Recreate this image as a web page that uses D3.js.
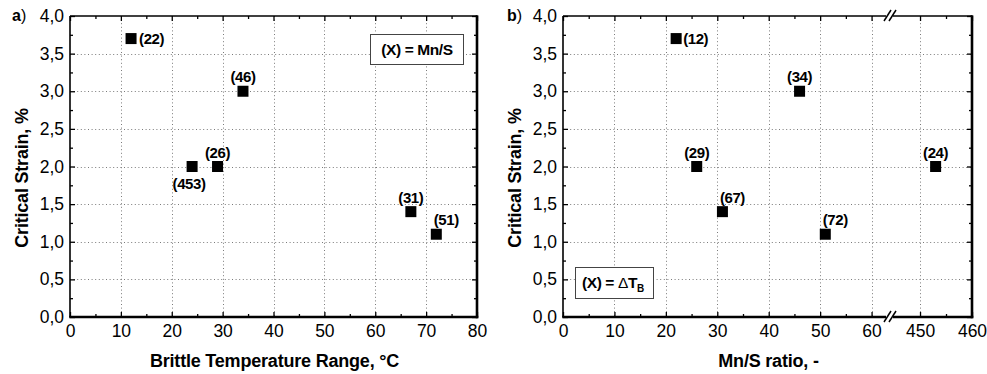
<!DOCTYPE html>
<html>
<head>
<meta charset="utf-8">
<script src="https://cdn.jsdelivr.net/npm/d3@7"></script>
<style>
  body { margin: 0; background: #fff; }
  svg { display: block; font-family: "Liberation Sans", Arial, sans-serif; }
</style>
</head>
<body>
<svg id="chart" width="987" height="374"></svg>
<script>
// Each heat: brittle temperature range (°C), Mn/S ratio and critical strain (%)
const deltaT = [12, 24, 29, 34, 67, 72];
const mnS    = [22, 453, 26, 46, 31, 51];
const strain = [3.7, 2.0, 2.0, 3.0, 1.4, 1.1];

// Axis ticks
const yTicks      = [0, 0.5, 1.0, 1.5, 2.0, 2.5, 3.0, 3.5, 4.0];
const xTicksA     = [0, 10, 20, 30, 40, 50, 60, 70, 80];
const xTicksBLow  = [0, 10, 20, 30, 40, 50, 60];
const xTicksBHigh = [450, 460];

// Text
const titleYAxis = "Critical Strain, %";
const titleXA = "Brittle Temperature Range, °C";
const titleXB = "Mn/S ratio, -";

// Where each point's tag sits relative to its marker
const placeA = ["right", "below", "above", "above", "above", "aboveRight"];
const placeB = ["rightTight", "above", "above", "above", "aboveRight", "aboveRight"];
const tagOffset = {
  right:      { dx: 8,  dy: 5,   anchor: "start"  },
  rightTight: { dx: 7,  dy: 5,   anchor: "start"  },
  above:      { dx: 0,  dy: -9,  anchor: "middle" },
  below:      { dx: -3, dy: 22,  anchor: "middle" },
  aboveRight: { dx: 10, dy: -9,  anchor: "middle" }
};

const svg = d3.select("#chart");
const fmtY = d => d3.format(".1f")(d).replace(".", ",");
const plotTop = 16, plotBottom = 317;
const y = d3.scaleLinear().domain([0, 4]).range([plotBottom, plotTop]);
const yMinor = d3.range(0.25, 4, 0.5);
const MARK = 11;

function gridLines(g, xs, xScale, x0, x1) {
  const grid = g.append("g").attr("stroke", "#7a7a7a").attr("stroke-width", 1)
    .attr("stroke-dasharray", "1,2.6");
  xs.forEach(v => {
    const px = Math.round(xScale(v)) + 0.5;
    grid.append("line").attr("x1", px).attr("x2", px).attr("y1", plotTop).attr("y2", plotBottom);
  });
  yTicks.filter(v => v > 0 && v < 4).forEach(v => {
    const py = Math.round(y(v)) + 0.5;
    grid.append("line").attr("x1", x0).attr("x2", x1).attr("y1", py).attr("y2", py);
  });
}

function xAxisSegment(g, scale, majors, minors, showLabels) {
  const bot = g.append("g").attr("transform", `translate(0,${plotBottom})`)
    .call(d3.axisBottom(scale).tickValues(majors).tickSize(-5).tickPadding(8)
      .tickFormat(showLabels ? d3.format("d") : ""));
  bot.append("g").call(d3.axisBottom(scale).tickValues(minors).tickSize(-3).tickFormat(""));
  const tp = g.append("g").attr("transform", `translate(0,${plotTop})`)
    .call(d3.axisTop(scale).tickValues(majors).tickSize(-5).tickFormat(""));
  tp.append("g").call(d3.axisTop(scale).tickValues(minors).tickSize(-3).tickFormat(""));
}

function yAxes(g, x0, x1) {
  const l = g.append("g").attr("transform", `translate(${x0},0)`)
    .call(d3.axisLeft(y).tickValues(yTicks).tickSize(-5).tickPadding(6).tickFormat(fmtY));
  l.append("g").call(d3.axisLeft(y).tickValues(yMinor).tickSize(-3).tickFormat(""));
  const r = g.append("g").attr("transform", `translate(${x1},0)`)
    .call(d3.axisRight(y).tickValues(yTicks).tickSize(-5).tickFormat(""));
  r.append("g").call(d3.axisRight(y).tickValues(yMinor).tickSize(-3).tickFormat(""));
}

function styleAxes(g) {
  g.selectAll(".domain").remove();
  g.selectAll(".tick line").attr("stroke", "#000").attr("stroke-width", 1.3);
  g.selectAll(".tick text").attr("font-size", 17.5).attr("fill", "#000")
    .attr("font-family", "'Liberation Sans', Arial, sans-serif");
}

function frame(g, x0, x1) {
  const f = g.append("g").attr("stroke", "#000").attr("fill", "none");
  f.append("line").attr("x1", x0).attr("x2", x1).attr("y1", plotTop).attr("y2", plotTop).attr("stroke-width", 1.6);
  f.append("line").attr("x1", x0).attr("x2", x0).attr("y1", plotTop).attr("y2", plotBottom).attr("stroke-width", 1.6);
  f.append("line").attr("x1", x1).attr("x2", x1).attr("y1", plotTop - 0.8).attr("y2", plotBottom + 1.3).attr("stroke-width", 2.6);
  f.append("line").attr("x1", x0 - 0.8).attr("x2", x1 + 1.3).attr("y1", plotBottom).attr("y2", plotBottom).attr("stroke-width", 2.6);
}

function points(g, xs, px, tags, place) {
  const grp = g.append("g");
  grp.selectAll("rect").data(strain).join("rect")
    .attr("x", (d, i) => px(xs[i]) - MARK / 2)
    .attr("y", d => y(d) - MARK / 2)
    .attr("width", MARK).attr("height", MARK).attr("fill", "#000");
  grp.selectAll("text").data(strain).join("text")
    .attr("x", (d, i) => px(xs[i]) + tagOffset[place[i]].dx)
    .attr("y", d => y(d)).attr("dy", (d, i) => tagOffset[place[i]].dy)
    .attr("text-anchor", (d, i) => tagOffset[place[i]].anchor)
    .attr("font-size", 15).attr("font-weight", "bold").attr("letter-spacing", -0.4)
    .text((d, i) => `(${tags[i]})`);
}

function yTitle(g, cx) {
  g.append("text").attr("transform", `translate(${cx},178) rotate(-90)`)
    .attr("text-anchor", "middle").attr("dy", "0.35em")
    .attr("font-size", 18).attr("font-weight", "bold").attr("letter-spacing", -0.2)
    .text(titleYAxis);
}

function panelTag(g, x, letter) {
  const t = g.append("text").attr("x", x).attr("y", 21).attr("font-size", 16);
  t.append("tspan").attr("font-weight", "bold").text(letter);
  t.append("tspan").text(")");
}

// ---------- panel a: critical strain vs brittle temperature range ----------
{
  const x0 = 70, x1 = 477;
  const x = d3.scaleLinear().domain([0, 80]).range([x0, x1]);
  const g = svg.append("g");
  gridLines(g, xTicksA.filter(v => v > 0 && v < 80), x, x0, x1);
  const ax = g.append("g");
  xAxisSegment(ax, x, xTicksA, d3.range(5, 80, 10), true);
  yAxes(ax, x0, x1);
  styleAxes(ax);
  frame(g, x0, x1);
  points(g, deltaT, x, mnS, placeA);

  // key box
  g.append("rect").attr("x", 370.5).attr("y", 34.5).attr("width", 93).attr("height", 30)
    .attr("fill", "#fff").attr("stroke", "#444").attr("stroke-width", 1);
  g.append("text").attr("x", 417).attr("y", 55).attr("text-anchor", "middle")
    .attr("font-size", 15.5).attr("font-weight", "bold").attr("letter-spacing", -0.4)
    .text("(X) = Mn/S");

  yTitle(g, 22);
  g.append("text").attr("x", (x0 + x1) / 2 + 1).attr("y", 367).attr("text-anchor", "middle")
    .attr("font-size", 18).attr("font-weight", "bold").attr("letter-spacing", -0.2)
    .text(titleXA);
  panelTag(g, 12, "a");
}

// ---------- panel b: critical strain vs Mn/S ratio, with a broken x axis ----------
{
  const x0 = 563, x1 = 972, brk = 890;
  const xLow  = d3.scaleLinear().domain([0, 63]).range([x0, brk - 3]);
  const xHigh = d3.scaleLinear().domain([444.8, 460]).range([brk + 3, x1]);
  const px = v => (v < 100 ? xLow(v) : xHigh(v));
  const g = svg.append("g");

  const grid = g.append("g");
  gridLines(grid, xTicksBLow.filter(v => v > 0), xLow, x0, x1);
  grid.append("line").attr("x1", Math.round(xHigh(450)) + 0.5).attr("x2", Math.round(xHigh(450)) + 0.5)
    .attr("y1", plotTop).attr("y2", plotBottom).attr("stroke", "#7a7a7a").attr("stroke-dasharray", "1,2.6");

  const ax = g.append("g");
  xAxisSegment(ax, xLow, xTicksBLow, d3.range(5, 63, 10), true);
  xAxisSegment(ax, xHigh, xTicksBHigh, [455], true);
  yAxes(ax, x0, x1);
  styleAxes(ax);
  frame(g, x0, x1);

  // break marks on the top and bottom axes
  [plotTop, plotBottom].forEach(yy => {
    g.append("rect").attr("x", brk - 4).attr("y", yy - 2).attr("width", 7).attr("height", 4).attr("fill", "#fff");
    [-3, 2].forEach(off => {
      g.append("line").attr("x1", brk + off - 3).attr("y1", yy + 5)
        .attr("x2", brk + off + 4).attr("y2", yy - 6)
        .attr("stroke", "#000").attr("stroke-width", 1.5);
    });
  });

  points(g, mnS, px, deltaT, placeB);

  // key box
  g.append("rect").attr("x", 575.5).attr("y", 267.5).attr("width", 78).attr("height", 31)
    .attr("fill", "#fff").attr("stroke", "#444").attr("stroke-width", 1);
  const k = g.append("text").attr("x", 582).attr("y", 288)
    .attr("font-size", 15.5).attr("font-weight", "bold").attr("letter-spacing", -0.4);
  k.append("tspan").text("(X) = ");
  k.append("tspan").attr("font-weight", "normal").text("Δ");
  k.append("tspan").text("T");
  k.append("tspan").attr("font-size", 10).attr("dy", 4).text("B");

  yTitle(g, 515);
  g.append("text").attr("x", (x0 + x1) / 2 + 1).attr("y", 367).attr("text-anchor", "middle")
    .attr("font-size", 18).attr("font-weight", "bold").attr("letter-spacing", -0.2)
    .text(titleXB);
  panelTag(g, 507, "b");
}
</script>
</body>
</html>
